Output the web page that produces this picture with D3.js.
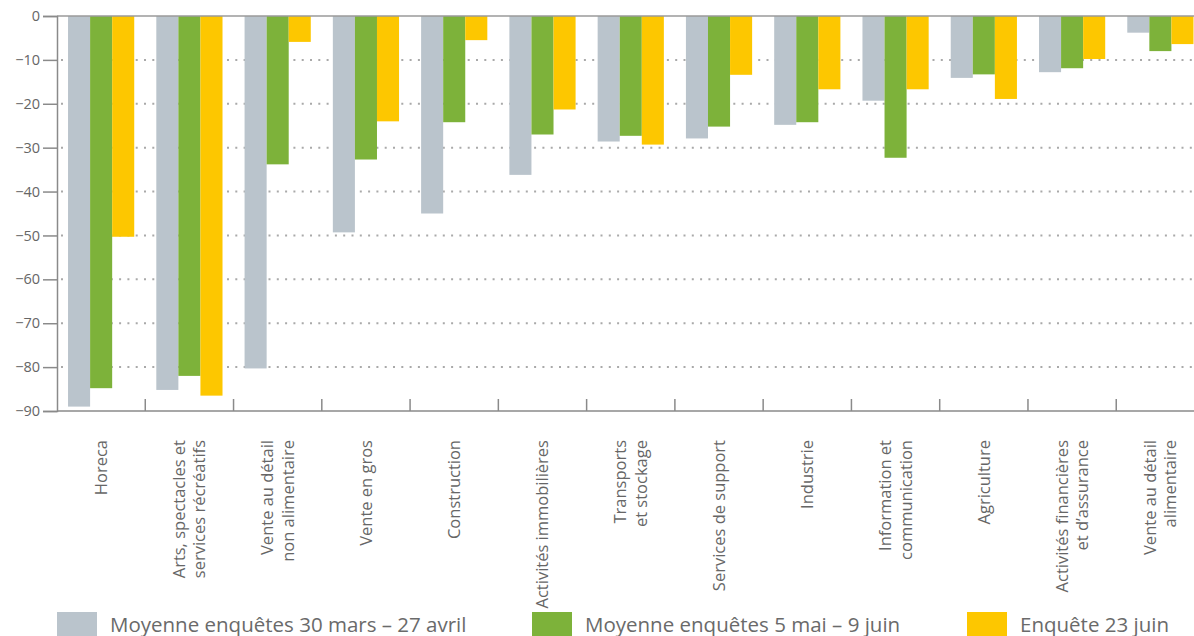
<!DOCTYPE html>
<html>
<head>
<meta charset="utf-8">
<script src="https://cdn.jsdelivr.net/npm/d3@7/dist/d3.min.js"></script>
<style>
  html, body { margin: 0; padding: 0; background: #fff; }
  svg { display: block; font-family: "Open Sans", "Noto Sans", sans-serif; }
</style>
</head>
<body>
<svg id="chart" width="1194" height="636"></svg>
<script>
const categories = [
  ["Horeca"],
  ["Arts, spectacles et", "services récréatifs"],
  ["Vente au détail", "non alimentaire"],
  ["Vente en gros"],
  ["Construction"],
  ["Activités immobilières"],
  ["Transports", "et stockage"],
  ["Services de support"],
  ["Industrie"],
  ["Information et", "communication"],
  ["Agriculture"],
  ["Activités financières", "et d’assurance"],
  ["Vente au détail", "alimentaire"]
];
const seriesNames = [
  "Moyenne enquêtes 30 mars – 27 avril",
  "Moyenne enquêtes 5 mai – 9 juin",
  "Enquête 23 juin"
];
const seriesMarsAvril = [-89, -85.2, -80.3, -49.3, -45, -36.2, -28.6, -27.9, -24.8, -19.3, -14.1, -12.8, -3.8];
const seriesMaiJuin   = [-84.8, -82, -33.8, -32.7, -24.2, -27, -27.3, -25.2, -24.2, -32.3, -13.3, -11.9, -8];
const seriesJuin23    = [-50.3, -86.5, -5.9, -24, -5.5, -21.3, -29.3, -13.4, -16.7, -16.7, -18.9, -9.8, -6.4];
const yTicks = [0, -10, -20, -30, -40, -50, -60, -70, -80, -90];

(function () {
const colors = ["#bac4cc", "#7db23a", "#fdc700"];
const allSeries = [seriesMarsAvril, seriesMaiJuin, seriesJuin23];

const svg = d3.select("#chart");
const mLeft = 57, mTop = 16, mBottom = 411;
const bandW = 88.27;
const mRight = mLeft + bandW * categories.length;

const keys = categories.map((c, i) => i);
const x0 = d3.scaleBand().domain(keys).range([mLeft, mRight]).paddingInner(0).paddingOuter(0);
const pad = x0.bandwidth() * 0.125;
const x1 = d3.scaleBand().domain([0, 1, 2]).range([pad, x0.bandwidth() - pad]).padding(0);
const y = d3.scaleLinear().domain([0, -90]).range([mTop, mBottom]);

// dotted gridlines
svg.append("g").selectAll("line")
  .data(yTicks.filter(t => t !== 0 && t !== -90))
  .join("line")
  .attr("x1", mLeft + 4).attr("x2", 1194)
  .attr("y1", d => y(d)).attr("y2", d => y(d))
  .attr("stroke", "#a9a9a9").attr("stroke-width", 2)
  .attr("stroke-dasharray", "2 6.3");

// bars
const groups = svg.append("g").selectAll("g")
  .data(keys).join("g")
  .attr("transform", d => `translate(${x0(d)},0)`);
groups.selectAll("rect")
  .data(i => allSeries.map((s, k) => ({k, v: s[i]})))
  .join("rect")
  .attr("x", d => x1(d.k))
  .attr("width", x1.bandwidth())
  .attr("y", y(0))
  .attr("height", d => y(d.v) - y(0))
  .attr("fill", d => colors[d.k]);

// top zero line
svg.append("line").attr("x1", mLeft).attr("x2", 1194).attr("y1", y(0)).attr("y2", y(0))
  .attr("stroke", "#9a9a9a").attr("stroke-width", 1.5);

// y axis
const yAxis = d3.axisLeft(y).tickValues(yTicks).tickSize(14).tickPadding(3)
  .tickFormat(d => d3.format("")(d).replace("-", "−"));
const ya = svg.append("g").attr("transform", `translate(${mLeft},0)`).call(yAxis);
ya.select(".domain").attr("stroke", "#8a8a8a").attr("stroke-width", 1.5);
ya.selectAll(".tick line").attr("stroke", "#8a8a8a").attr("stroke-width", 1.5);
ya.selectAll(".tick text").attr("fill", "#666").attr("font-size", 14.5)
  .attr("font-family", "'Open Sans', sans-serif");

// bottom axis with upward ticks at band boundaries
svg.append("line").attr("x1", mLeft).attr("x2", 1194).attr("y1", y(-90)).attr("y2", y(-90))
  .attr("stroke", "#8a8a8a").attr("stroke-width", 1.5);
svg.append("g").selectAll("line")
  .data(keys.slice(1))
  .join("line")
  .attr("x1", d => x0(d)).attr("x2", d => x0(d))
  .attr("y1", y(-90)).attr("y2", y(-90) - 12)
  .attr("stroke", "#8a8a8a").attr("stroke-width", 1.5);

// category labels (rotated)
const lab = svg.append("g").selectAll("g")
  .data(keys).join("g")
  .attr("transform", d => `translate(${x0(d) + x0.bandwidth() / 2},440) rotate(-90)`);
lab.append("text")
  .attr("text-anchor", "end")
  .attr("fill", "#666")
  .attr("font-size", 16.5)
  .selectAll("tspan")
  .data(d => categories[d].map((t, i, arr) => ({t, off: (i - (arr.length - 1) / 2) * 20.5})))
  .join("tspan")
  .attr("x", 0)
  .attr("y", d => d.off)
  .attr("dy", "0.35em")
  .text(d => d.t);

// legend
const legendX = [57, 532, 967];
const lg = svg.append("g").selectAll("g")
  .data(seriesNames).join("g")
  .attr("transform", (d, i) => `translate(${legendX[i]},612)`);
lg.append("rect").attr("width", 40).attr("height", 26).attr("fill", (d, i) => colors[i]);
lg.append("text").attr("x", 53).attr("y", 19.5)
  .attr("font-size", 20.5).attr("fill", "#6a6a6a")
  .text(d => d);
})();
</script>
</body>
</html>
